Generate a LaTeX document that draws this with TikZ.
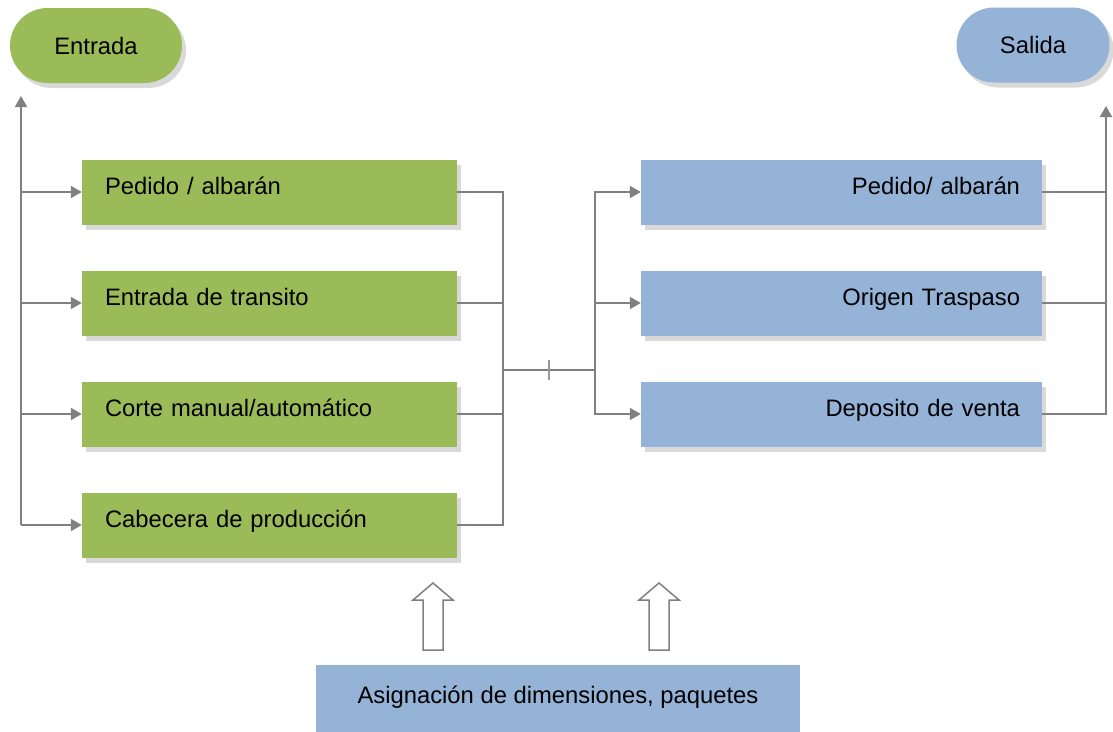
\documentclass[tikz,border=0pt]{standalone}
\usepackage{fontspec}
\setmainfont{Liberation Sans}
\usetikzlibrary{arrows.meta,shadows,shapes.misc}
\definecolor{boxgreen}{HTML}{9BBB59}
\definecolor{boxblue}{HTML}{95B3D7}
\definecolor{linegray}{HTML}{808080}
\definecolor{shade}{HTML}{D9D9D9}
\tikzset{
  txt/.style={font=\fontsize{23.8}{28}\selectfont},
  boxshadow/.style={drop shadow={shadow xshift=4pt,shadow yshift=-5pt,fill=shade,opacity=1}},
  pill/.style={rounded rectangle,minimum width=#1,minimum height=75pt,inner sep=0pt,text height=17pt,text depth=0pt,boxshadow,txt},
  inbox/.style={rectangle,fill=boxgreen,minimum height=65pt,text width=329pt,inner xsep=23pt,align=left,text height=17pt,text depth=12pt,boxshadow,txt},
  outbox/.style={rectangle,fill=boxblue,minimum height=65pt,text width=357pt,inner xsep=22pt,align=right,text height=17pt,text depth=12pt,boxshadow,txt},
  line/.style={draw=linegray,line width=2pt},
  arr/.style={line,-{Triangle[length=11pt,width=12pt]}},
  hollow/.style={draw=linegray,line width=1.5pt,fill=white}
}
\begin{document}
\begin{tikzpicture}[x=1pt,y=-1pt]
  \useasboundingbox (0,0) rectangle (1113,731);
  \def\gx{269.5}
  \def\bx{841.5}

  \node[pill=172pt,fill=boxgreen] (entrada) at (96,45.5) {Entrada};
  \node[pill=153pt,fill=boxblue] (salida) at (1033,45) {Salida};

  \node[inbox] (g1) at (\gx,192) {Pedido / albarán};
  \node[inbox] (g2) at (\gx,303) {Entrada de transito};
  \node[inbox] (g3) at (\gx,414) {Corte manual/automático};
  \node[inbox] (g4) at (\gx,525) {Cabecera de producción};

  \node[outbox] (b1) at (\bx,192) {Pedido/ albarán};
  \node[outbox] (b2) at (\bx,303) {Origen Traspaso};
  \node[outbox] (b3) at (\bx,414) {Deposito de venta};

  \node[rectangle,fill=boxblue,minimum width=484pt,minimum height=70pt,text height=17pt,text depth=10pt,txt] (asig) at (558,700) {Asignación de dimensiones, paquetes};

  % left trunk
  \coordinate (lbot) at (21,525);
  \coordinate (ltop) at (21,96);
  \draw[arr] (lbot) -- (ltop);
  \foreach \g in {g1,g2,g3,g4}
    \draw[arr] (lbot |- \g.west) -- (\g.west);

  % bus in the middle
  \coordinate (jl) at (503,370);
  \coordinate (jr) at (595,370);
  \coordinate (tick) at (549,370);
  \foreach \g in {g1,g2,g3,g4}
    \draw[line] (\g.east) -| (jl);
  \draw[line] (jl) -- (jr);
  \draw[draw=linegray!80,line width=1.5pt] ([yshift=-10pt]tick) -- ([yshift=10pt]tick);
  \foreach \b in {b1,b2,b3}
    \draw[arr] (jr) |- (\b.west);

  % right trunk
  \coordinate (rtop) at (1106,106);
  \draw[line] (b1.east) -- (b1.east -| rtop);
  \draw[line] (b2.east) -- (b2.east -| rtop);
  \draw[arr] (b3.east) -| (rtop);

  % hollow arrows
  \foreach \x in {433,659}
    \draw[hollow] (\x,583) -- ++(20,17) -- ++(-10,0) -- ++(0,50) -- ++(-20,0) -- ++(0,-50) -- ++(-10,0) -- cycle;
\end{tikzpicture}
\end{document}
